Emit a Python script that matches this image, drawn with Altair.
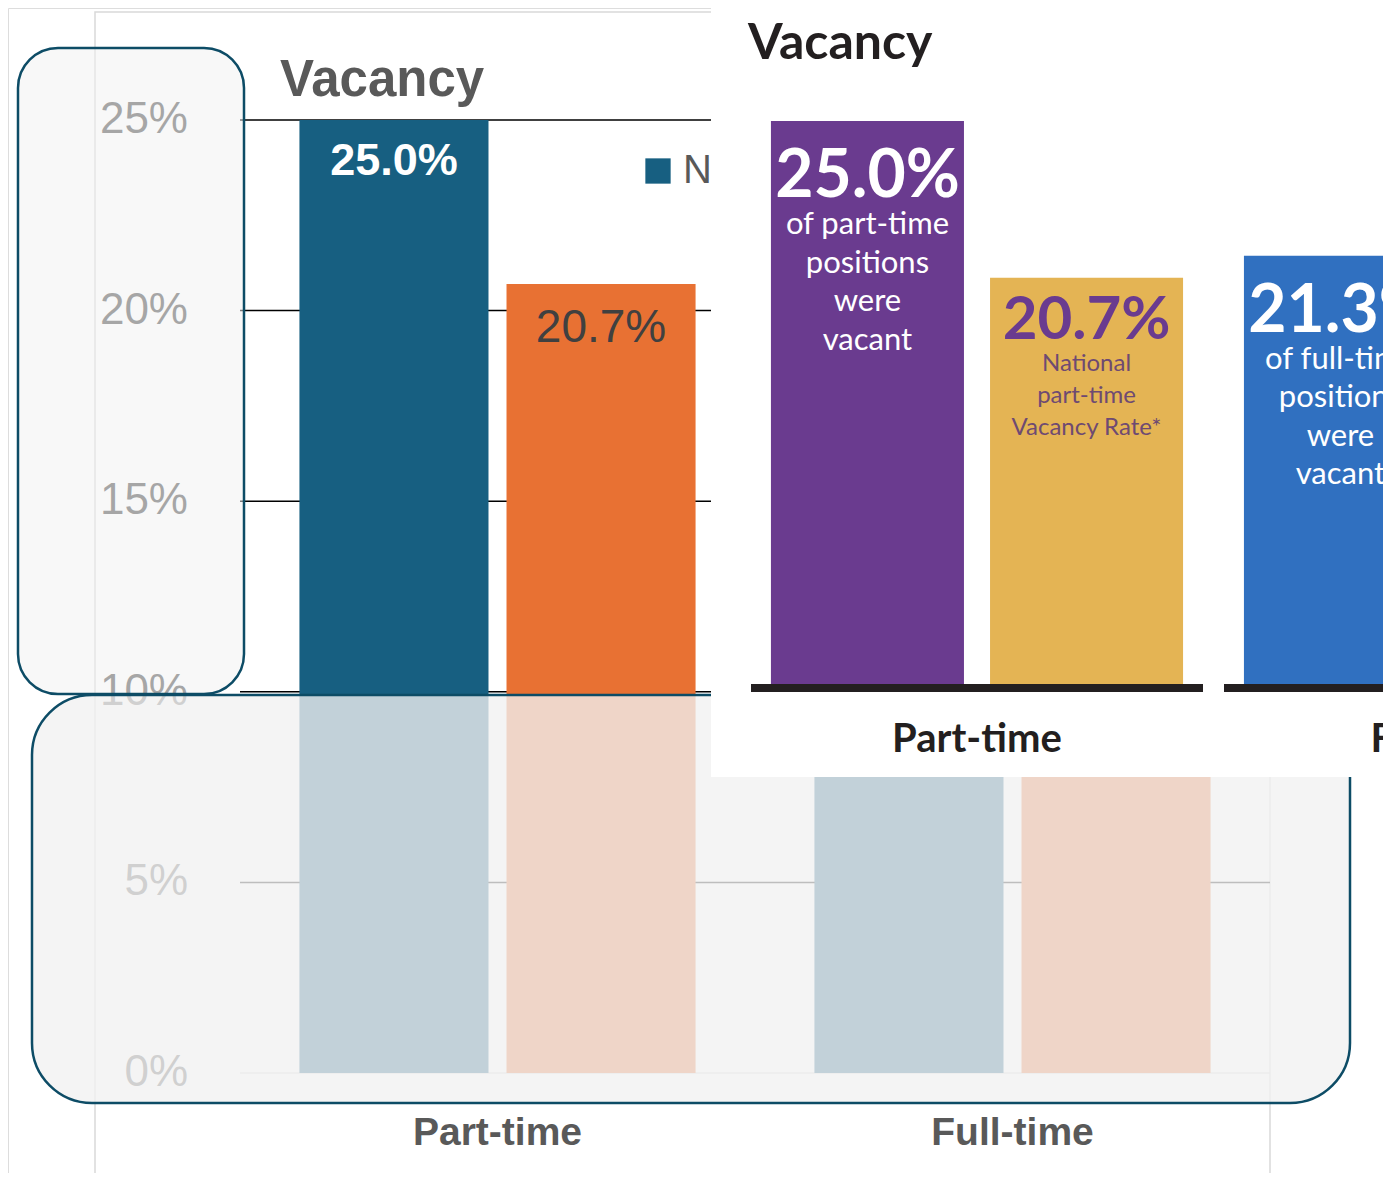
import altair as alt
import pandas as pd

# ---------------- data ----------------
categories = ["Part-time", "Full-time"]
series = ["NYS Local Health Departments", "National"]

bar_category = ["Part-time", "Part-time", "Full-time", "Full-time"]
bar_series = [series[0], series[1], series[0], series[1]]
bar_value = [25.0, 20.7, 21.3, 17.0]
bar_label = ["25.0%", "20.7%", "21.3%", "17.0%"]

tick_values = [0, 5, 10, 15, 20, 25]
tick_labels = ["0%", "5%", "10%", "15%", "20%", "25%"]

inset_category = ["Part-time", "Part-time", "Full-time"]
inset_series = ["Agency", "National", "Agency"]
inset_value = [25.0, 20.7, 21.3]
inset_label = ["25.0%", "20.7%", "21.3%"]
inset_desc = [
    "of part-time\npositions\nwere\nvacant",
    "National\npart-time\nVacancy Rate*",
    "of full-time\npositions\nwere\nvacant",
]
inset_series_domain = ["Agency", "National"]

# ---------------- styles ----------------
MAIN_FONT = "Liberation Sans"
INSET_FONT = "Lato"
main_colors = ["#175f81", "#e87133"]
inset_keys = ["Part-time Agency", "Part-time National", "Full-time Agency"]
inset_colors = ["#6a3b8f", "#e4b454", "#3070c0"]
TEAL = "#0d4c66"
INSET_FLOOR = 9.5

# ---------------- frames ----------------
bars_df = pd.DataFrame({"category": bar_category, "series": bar_series,
                        "value": bar_value, "label": bar_label})
grid_df = pd.DataFrame({"tick": tick_values, "label": tick_labels})
cat_df = pd.DataFrame({"category": categories})
legend_df = pd.DataFrame({"series": series})
inset_df = pd.DataFrame({
    "category": inset_category, "series": inset_series, "value": inset_value,
    "label": inset_label, "desc": inset_desc,
    "key": [c + " " + s for c, s in zip(inset_category, inset_series)],
})
one = pd.DataFrame({"k": [0]})

# ---------------- scales ----------------
X_MAIN = alt.Scale(type="band", domain=categories, range=[232, 1262],
                   paddingInner=0, paddingOuter=0)
XOFF_MAIN = alt.Scale(type="band", domain=series, paddingInner=0.087,
                      paddingOuter=0.287)
Y_MAIN = alt.Scale(domain=[0, 25], range=[1065, 112], nice=False, zero=True)
C_MAIN = alt.Scale(domain=series, range=main_colors)
LEG_X = alt.Scale(type="point", domain=series, range=[650, 1150], padding=0)

X_INSET = alt.Scale(type="band", domain=categories, range=[743, 1668],
                    paddingInner=0.0444, paddingOuter=0)
XOFF_INSET = alt.Scale(type="band", domain=inset_series_domain,
                       paddingInner=0.119, paddingOuter=0.091)
Y_INSET = alt.Scale(domain=[INSET_FLOOR, 25], range=[678, 113], nice=False,
                    zero=False)
C_INSET = alt.Scale(domain=inset_keys, range=inset_colors)

# ---------------- main chart ----------------
frame = alt.Chart(one).mark_rect(fill="white", fillOpacity=0, stroke="#d9d9d9",
                                 strokeWidth=1.5).encode(
    x=alt.value(87), x2=alt.value(1262), y=alt.value(4), y2=alt.value(1200))

grid = alt.Chart(grid_df).mark_rule(strokeWidth=1.5).encode(
    y=alt.Y("tick:Q", scale=Y_MAIN, axis=None),
    x=alt.value(232), x2=alt.value(1262),
    color=alt.condition("datum.tick == 0", alt.value("#d9d9d9"), alt.value("#000000")),
)

bars = alt.Chart(bars_df).mark_bar().encode(
    x=alt.X("category:N", scale=X_MAIN, axis=None),
    xOffset=alt.XOffset("series:N", scale=XOFF_MAIN),
    y=alt.Y("value:Q", scale=Y_MAIN, axis=None),
    color=alt.Color("series:N", scale=C_MAIN, legend=None),
)

val_enc = dict(
    x=alt.X("category:N", scale=X_MAIN, axis=None),
    xOffset=alt.XOffset("series:N", scale=XOFF_MAIN),
    y=alt.Y("value:Q", scale=Y_MAIN, axis=None),
    text="label:N",
)
labels_a = alt.Chart(bars_df).transform_filter(
    alt.datum.series == series[0]
).mark_text(font=MAIN_FONT, fontSize=45, fontWeight="bold", color="white",
            baseline="alphabetic", dy=55).encode(**val_enc)
labels_b = alt.Chart(bars_df).transform_filter(
    alt.datum.series == series[1]
).mark_text(font=MAIN_FONT, fontSize=46, color="#404040",
            baseline="alphabetic", dy=58).encode(**val_enc)

title = alt.Chart(one).mark_text(text="Vacancy", font=MAIN_FONT, fontSize=51,
                                 fontWeight="bold", color="#595959",
                                 align="left", baseline="alphabetic").encode(
    x=alt.value(272), y=alt.value(88))

legend_sq = alt.Chart(legend_df).mark_square(size=640, opacity=1).encode(
    x=alt.X("series:N", scale=LEG_X, axis=None),
    y=alt.value(163),
    color=alt.Color("series:N", scale=C_MAIN, legend=None),
)
legend_tx = alt.Chart(legend_df).mark_text(
    font=MAIN_FONT, fontSize=40, color="#595959", align="left",
    baseline="middle", dx=25).encode(
    x=alt.X("series:N", scale=LEG_X, axis=None),
    y=alt.value(163),
    text="series:N",
)

tick_text = alt.Chart(grid_df).mark_text(
    font=MAIN_FONT, fontSize=44, color="#595959", align="right",
    baseline="middle").encode(
    x=alt.value(180),
    y=alt.Y("tick:Q", scale=Y_MAIN, axis=None),
    text="label:N",
)

x_text = alt.Chart(cat_df).mark_text(
    font=MAIN_FONT, fontSize=39, fontWeight="bold", color="#595959",
    baseline="alphabetic").encode(
    x=alt.X("category:N", scale=X_MAIN, axis=None),
    y=alt.value(1137),
    text="category:N",
)

left_box = alt.Chart(one).mark_rect(
    cornerRadius=40, fill="#f1f1f1", fillOpacity=0.51, stroke=TEAL,
    strokeWidth=2.5).encode(
    x=alt.value(10), x2=alt.value(236), y=alt.value(40), y2=alt.value(686))

bottom_box = alt.Chart(one).mark_rect(
    cornerRadius=60, fill="#f1f1f1", fillOpacity=0.786, stroke=TEAL,
    strokeWidth=2.5).encode(
    x=alt.value(24), x2=alt.value(1342), y=alt.value(687), y2=alt.value(1095))

# ---------------- inset ----------------
inset_bg = alt.Chart(one).mark_rect(fill="white").encode(
    x=alt.value(703), x2=alt.value(1400), y=alt.value(-10), y2=alt.value(769))

inset_title = alt.Chart(one).mark_text(
    text="Vacancy", font=INSET_FONT, fontSize=50, fontWeight="bold",
    color="#231f20", align="left", baseline="alphabetic").encode(
    x=alt.value(740), y=alt.value(51))

inset_bars = alt.Chart(inset_df).mark_bar().encode(
    x=alt.X("category:N", scale=X_INSET, axis=None),
    xOffset=alt.XOffset("series:N", scale=XOFF_INSET),
    y=alt.Y("value:Q", scale=Y_INSET, axis=None),
    y2=alt.datum(INSET_FLOOR),
    color=alt.Color("key:N", scale=C_INSET, legend=None),
)

inset_base = alt.Chart(cat_df).mark_bar(color="#231f20").encode(
    x=alt.X("category:N", scale=X_INSET, axis=None),
    y=alt.value(676), y2=alt.value(684),
)

in_enc = dict(
    x=alt.X("category:N", scale=X_INSET, axis=None),
    xOffset=alt.XOffset("series:N", scale=XOFF_INSET),
    y=alt.Y("value:Q", scale=Y_INSET, axis=None),
)
inset_num_a = alt.Chart(inset_df).transform_filter(
    alt.datum.series == "Agency"
).mark_text(font=INSET_FONT, fontSize=66, fontWeight="bold", color="white",
            baseline="alphabetic", dy=76).encode(text="label:N", **in_enc)
inset_num_b = alt.Chart(inset_df).transform_filter(
    alt.datum.series == "National"
).mark_text(font=INSET_FONT, fontSize=60, fontWeight="bold", color="#6a3b8f",
            baseline="alphabetic", dy=61).encode(text="label:N", **in_enc)
inset_desc_a = alt.Chart(inset_df).transform_filter(
    alt.datum.series == "Agency"
).mark_text(font=INSET_FONT, fontSize=31, color="white", lineBreak="\n",
            lineHeight=38.5, baseline="alphabetic", dy=113).encode(
    text="desc:N", **in_enc)
inset_desc_b = alt.Chart(inset_df).transform_filter(
    alt.datum.series == "National"
).mark_text(font=INSET_FONT, fontSize=24, color="#6e4a72", lineBreak="\n",
            lineHeight=32, baseline="alphabetic", dy=93).encode(
    text="desc:N", **in_enc)

inset_xlab = alt.Chart(cat_df).mark_text(
    font=INSET_FONT, fontSize=40, fontWeight="bold", color="#231f20",
    baseline="alphabetic").encode(
    x=alt.X("category:N", scale=X_INSET, axis=None),
    y=alt.value(744),
    text="category:N",
)

chart = alt.layer(
    frame, grid, bars, labels_a, labels_b, title, legend_sq, legend_tx,
    tick_text, x_text, left_box, bottom_box,
    inset_bg, inset_title, inset_bars, inset_base,
    inset_num_a, inset_num_b, inset_desc_a, inset_desc_b, inset_xlab,
).resolve_scale(
    x="independent", y="independent", color="independent", xOffset="independent"
).properties(
    width=1375, height=1165, padding=0,
    autosize=alt.AutoSizeParams(type="none"),
).configure_view(strokeOpacity=0).configure(background="white")

chart.save("out.html", embed_options={"renderer": "svg", "actions": False})
